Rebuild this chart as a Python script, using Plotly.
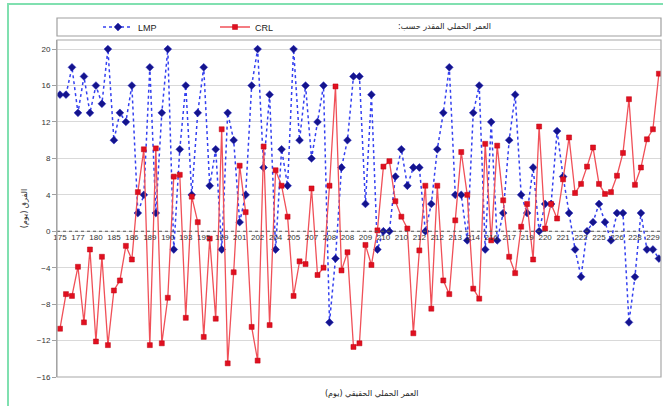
import plotly.graph_objects as go

# category index positions (true gestational age order)
n_points = 101
positions = list(range(n_points))

# tick labels shown every 3rd category
tick_positions = list(range(0, 100, 3))
tick_labels = ["175", "177", "180", "185", "186", "189", "190", "193", "195", "199",
               "201", "202", "204", "205", "207", "208", "208", "209", "210", "210",
               "212", "212", "213", "214", "216", "217", "219", "220", "221", "222",
               "225", "226", "228", "229"]

lmp = [15, 15, 18, 13, 17, 13, 16, 14, 20, 10,
       13, 12, 16, 2, 4, 18, 2, 13, 20, -2,
       9, 16, 4, 13, 18, 5, 9, -2, 13, 10,
       1, 4, 16, 20, 7, 15, -2, 9, 5, 20,
       10, 16, 8, 12, 16, -10, -3, 7, 10, 17,
       17, 3, 15, -2, 0, 0, 6, 9, 5, 7,
       7, 0, 3, 9, 13, 18, 4, 4, -1, 13,
       16, -2, 12, -1, 2, 10, 15, 4, 2, 7,
       0, 3, 3, 11, 6, 2, -2, -5, 0, 1,
       3, 1, -1, 2, 2, -10, -5, 2, -2, -2,
       -3]

crl = [-10.7, -6.9, -7.1, -3.9, -10.0, -2.0, -12.1, -2.8, -12.5, -6.5,
       -5.4, -1.6, -3.1, 4.3, 9.0, -12.5, 9.1, -12.3, -7.3, 6.0,
       6.2, -9.5, 3.8, 1.0, -11.6, -0.8, -9.6, 11.2, -14.5, -4.5,
       7.2, 2.1, -10.5, -14.2, 9.3, -10.3, 6.7, 5.0, 1.6, -7.1,
       -3.3, -3.6, 4.7, -4.8, -4.0, 5.0, 15.9, -4.3, -2.3, -12.7,
       -12.3, -1.5, -3.7, 0.1, 7.1, 7.7, 3.3, 1.6, 0.3, -11.2,
       -2.1, 5.0, -8.5, 5.0, -5.4, -6.9, 1.2, 8.7, 4.0, -6.3,
       -7.4, 9.6, -1.0, 9.4, 3.4, -2.8, -4.6, 0.5, 3.0, -3.1,
       11.5, 0.3, 3.0, 1.4, 5.7, 10.3, 4.2, 5.2, 7.1, 9.2,
       5.2, 4.1, 4.3, 6.1, 8.6, 14.5, 5.1, 7.0, 10.1, 11.2,
       17.3]

y_ticks = [-16, -12, -8, -4, 0, 4, 8, 12, 16, 20]

W, H = 663, 406
ML, MR, MT, MB = 57, 2, 40, 29
PW = W - ML - MR
PH = H - MT - MB

def px_x(x):
    return (x - ML) / PW

def px_y(y):
    return 1 - (y - MT) / PH

RLM = "\u200f"

fig = go.Figure()
fig.add_trace(go.Scatter(
    x=positions, y=lmp, name="LMP", mode="lines+markers",
    line=dict(color="#3440f0", width=1.5, dash="dot"),
    marker=dict(symbol="diamond", size=6, color="#14148c",
                line=dict(color="#2020c0", width=0.5)),
    xaxis="x2",
))
fig.add_trace(go.Scatter(
    x=positions, y=crl, name="CRL", mode="lines+markers",
    line=dict(color="#f05058", width=1.3),
    marker=dict(symbol="square", size=5, color="#e01020",
                line=dict(color="#c00010", width=0.5)),
    xaxis="x2",
))

ymin, ymax = -16, 21
zero_pos = (0 - ymin) / (ymax - ymin)

fig.update_layout(
    width=W, height=H,
    margin=dict(l=ML, r=MR, t=MT, b=MB, autoexpand=False),
    paper_bgcolor="white", plot_bgcolor="white",
    font=dict(family="Liberation Sans, Arial, sans-serif", size=8, color="#333333"),
    showlegend=True,
    legend=dict(orientation="h", x=px_x(98), y=px_y(27), xanchor="left", yanchor="middle",
                entrywidth=72, entrywidthmode="pixels", bgcolor="rgba(0,0,0,0)",
                font=dict(size=9, color="#222222"), itemwidth=30),
    xaxis=dict(range=[-0.5, 100.35], showgrid=False, showticklabels=False,
               showline=False, zeroline=False, ticks=""),
    xaxis2=dict(range=[-0.5, 100.35], overlaying="x", anchor="free", position=zero_pos,
                tickmode="array", tickvals=tick_positions, ticktext=tick_labels,
                tickangle=0, showgrid=False, showline=False, zeroline=False, ticks="",
                tickfont=dict(size=8, color="#333333")),
    yaxis=dict(range=[ymin, ymax], tickmode="array", tickvals=y_ticks,
               showgrid=True, gridcolor="#d9d9d9", gridwidth=1,
               zeroline=False, showline=True, linecolor="#a0a0a0", linewidth=1,
               ticks="outside", ticklen=4, tickcolor="#a0a0a0",
               tickfont=dict(size=8, color="#333333"),
               title=dict(text="الفرق (يوم)" + RLM,
                          font=dict(family="DejaVu Sans", size=8, color="#222222"),
                          standoff=8)),
)

# zero line (dashed)
fig.add_shape(type="line", xref="paper", yref="y", x0=0, x1=1, y0=0, y1=0,
              line=dict(color="#555555", width=1.2, dash="3px,3px"))
# plot area border
fig.add_shape(type="rect", xref="paper", yref="paper", x0=0, x1=1, y0=0, y1=1,
              line=dict(color="#a8a8a8", width=1.2), layer="above")
# legend box
fig.add_shape(type="rect", xref="paper", yref="paper",
              x0=0, x1=1, y0=px_y(36), y1=px_y(18),
              line=dict(color="#a0a0a0", width=1.2), fillcolor="white", layer="below")
# outer green frame
fig.add_shape(type="rect", xref="paper", yref="paper",
              x0=px_x(8), x1=px_x(672), y0=px_y(415), y1=px_y(4),
              line=dict(color="#80e0b0", width=2), layer="below")

fig.add_annotation(text="العمر الحملي المقدر حسب:" + RLM, xref="paper", yref="paper",
                   x=px_x(445), y=px_y(27), showarrow=False, xanchor="center", yanchor="middle",
                   font=dict(family="DejaVu Sans", size=8, color="#222222"))
fig.add_annotation(text="العمر الحملي الحقيقي (يوم)" + RLM, xref="paper", yref="paper",
                   x=px_x(372), y=px_y(393), showarrow=False, xanchor="center", yanchor="middle",
                   font=dict(family="DejaVu Sans", size=8, color="#222222"))

fig.write_html("out.html", config={"displayModeBar": False},
               post_script="document.body.style.margin='0px';document.body.style.padding='0px';")
